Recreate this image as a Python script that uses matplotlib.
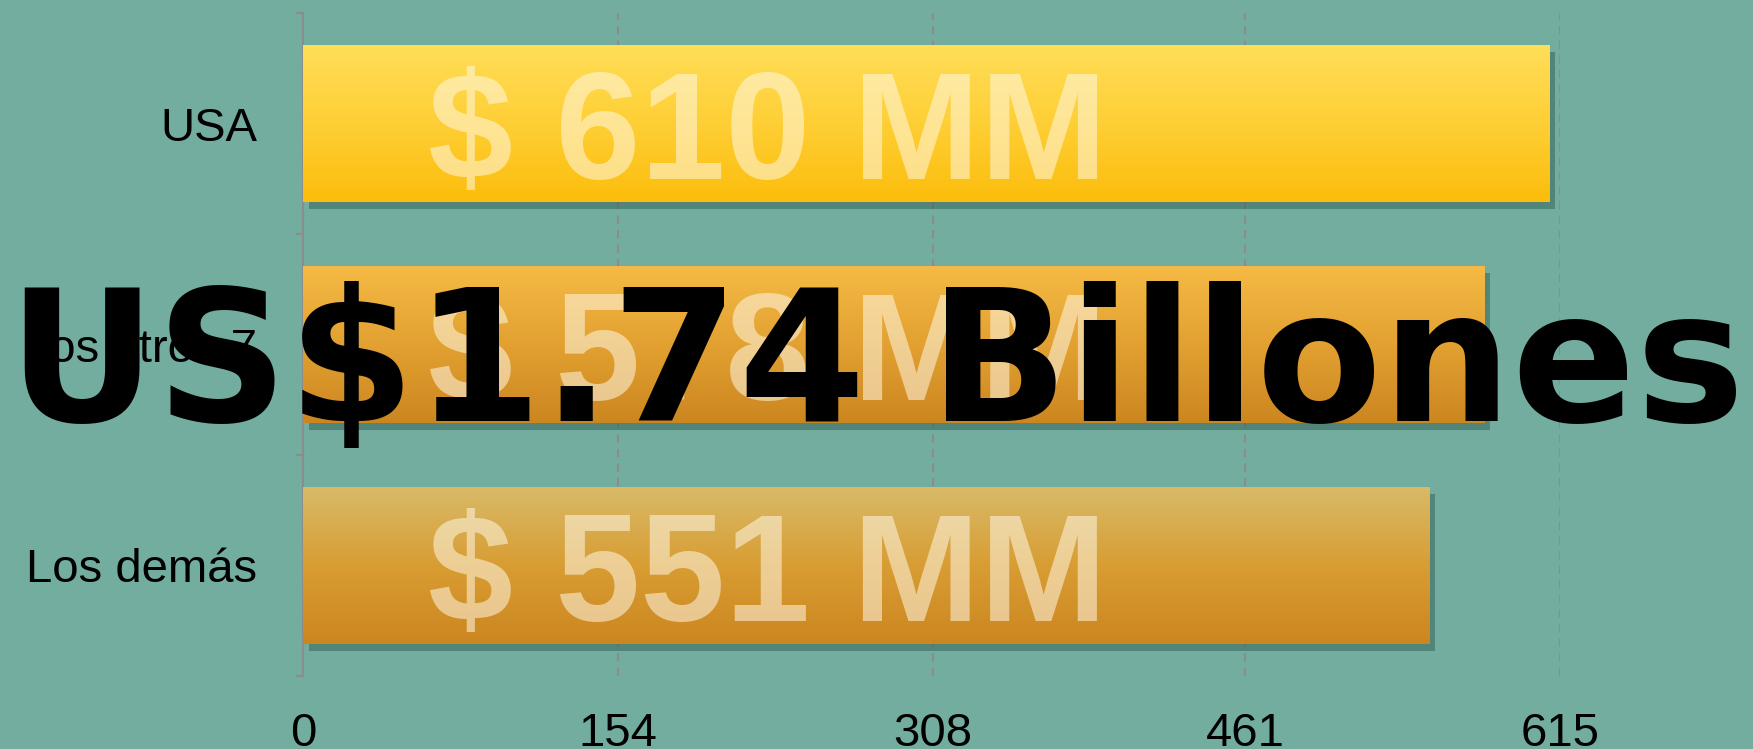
import numpy as np
import matplotlib
matplotlib.use("Agg")
import matplotlib.pyplot as plt
import matplotlib.patheffects as pe
from matplotlib.colors import to_rgb

# ---- data ----
categories = ["USA", "Los otros 7", "Los demás"]
values = [610, 578, 551]
x_ticks = [0, 154, 308, 461, 615]
headline = "US$1.74 Billones"
bar_tops = ["#FFDE58", "#F5BA45", "#D9BA68"]
bar_mids = ["#FECF35", "#E2A131", "#D89D33"]
bar_bots = ["#FCBD0B", "#CC8620", "#CC8620"]

BG = "#72AD9F"
W, H, DPI = 1753, 749, 100

plt.rcParams["font.family"] = ["Liberation Sans", "DejaVu Sans"]
fig = plt.figure(figsize=(W / DPI, H / DPI), dpi=DPI, facecolor=BG)
ax = fig.add_axes([303 / W, 1 - 676 / H, (1560 - 303) / W, (676 - 13) / H])
ax.set_facecolor(BG)

ypos = np.arange(len(categories))
bar_h = 0.71
bars = ax.barh(ypos, values, height=bar_h, color=bar_bots, zorder=2,
               path_effects=[pe.SimplePatchShadow(offset=(4, -5), shadow_rgbFace="#244a40", alpha=0.4),
                             pe.Normal()])

for b, v, y, ct, cm, cb in zip(bars, values, ypos, bar_tops, bar_mids, bar_bots):
    t = np.linspace(0, 1, 256)[:, None]
    c0, c1, c2 = (np.array(to_rgb(c)) for c in (ct, cm, cb))
    top = c0[None, :] + (c1 - c0)[None, :] * np.clip(t / 0.5, 0, 1)
    bot = c1[None, :] + (c2 - c1)[None, :] * np.clip((t - 0.5) / 0.5, 0, 1)
    g = np.where(t < 0.5, top, bot)[:, None, :]
    im = ax.imshow(g, extent=(0, v, y + bar_h / 2, y - bar_h / 2), origin="upper",
                   aspect="auto", zorder=3, interpolation="bilinear")
    im.set_clip_path(b)
    ax.text(61, y, f"$ {v} MM", fontsize=110, fontweight="bold", color="#FFF8E6",
            alpha=0.55, ha="left", va="center_baseline", zorder=4)

ax.set_xlim(0, x_ticks[-1])
ax.set_ylim(len(categories) - 0.5, -0.5)

ax.set_xticks(x_ticks)
ax.set_xticklabels([str(t) for t in x_ticks])
ax.set_yticks(ypos)
ax.set_yticklabels(categories)
ax.set_yticks(np.arange(len(categories) + 1) - 0.5, minor=True)
ax.tick_params(axis="y", which="major", length=0, pad=33, labelsize=34)
ax.tick_params(axis="y", which="minor", length=5, width=1.5, color="#8C8C8C", left=True)
ax.tick_params(axis="x", which="both", length=0, pad=26, labelsize=34)

for s in ["top", "right", "bottom"]:
    ax.spines[s].set_visible(False)
ax.spines["left"].set_color("#8C8C8C")
ax.spines["left"].set_linewidth(1.5)

ax.grid(axis="x", color="#8C8C8C", linestyle=(0, (4, 3)), linewidth=1.5, zorder=1)
ax.set_axisbelow(True)

# headline text sized to span the figure width
txt = fig.text(0.5, 1 - 421 / H, headline, ha="center", va="baseline",
               fontsize=130, fontweight="bold", family=["DejaVu Sans"], color="black", zorder=10)
fig.canvas.draw()
bb = txt.get_window_extent()
txt.set_fontsize(130 * 1735 / bb.width)

fig.savefig("out.png", dpi=DPI, facecolor=BG)
